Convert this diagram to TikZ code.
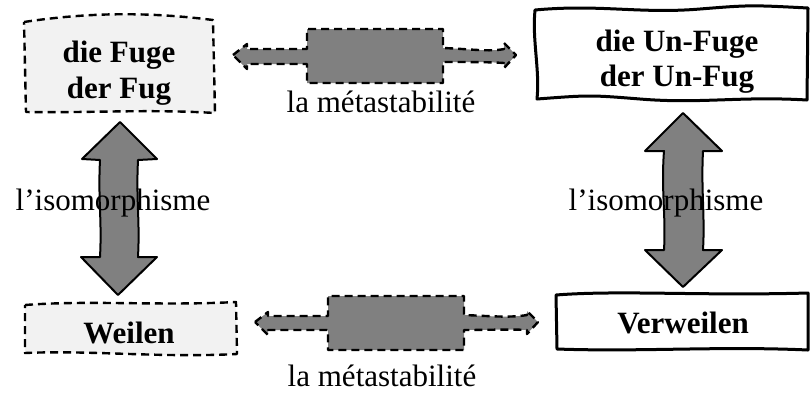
\documentclass[tikz,border=0pt]{standalone}
\usepackage{fontspec}
\setmainfont{Liberation Serif}
\definecolor{arrowgray}{HTML}{808080}
\definecolor{boxgray}{HTML}{F2F2F2}
\tikzset{
  dashbox/.style={draw=black, fill=boxgray, line width=2.4pt, dash pattern=on 8pt off 5pt, line join=round},
  solidbox/.style={draw=black, fill=white, line width=3pt, line join=round},
  dasharrow/.style={draw=black, fill=arrowgray, line width=2.4pt, dash pattern=on 8pt off 5pt, line join=round},
  solidarrow/.style={draw=black, fill=arrowgray, line width=2pt, line join=round},
  boxtext/.style={font=\fontsize{31}{35.5}\selectfont\bfseries, align=center, inner sep=0pt},
  labeltext/.style={font=\fontsize{31}{35.5}\selectfont, inner sep=0pt}
}
\begin{document}
\begin{tikzpicture}[x=1pt,y=-1pt]
\useasboundingbox (0,0) rectangle (810,392);
% vertical arrows
\draw[solidarrow] (120,122) -- (157,159) -- (138,160) .. controls (136,200) and (140,220) .. (138,257) -- (157,257) -- (118,295) -- (81,257) -- (100,257) .. controls (102,220) and (98,200) .. (100,160) -- (82,159) -- cycle;
\draw[solidarrow] (683,113) -- (722,151) -- (703,151) .. controls (701,190) and (705,215) .. (703,250) -- (722,250) -- (683,287) -- (645,250) -- (664,250) .. controls (666,215) and (661,190) .. (664,151) -- (645,151) -- cycle;
% boxes
\draw[dashbox] (24,22) .. controls (90,12) and (150,12) .. (213,20) -- (215,113) .. controls (150,109) and (90,113) .. (26,112) -- cycle;
\draw[solidbox] (535,10) .. controls (600,4) and (640,14) .. (700,9) .. controls (750,5) .. (808,8) -- (807,100) .. controls (740,96) and (700,104) .. (640,99) .. controls (590,95) .. (537,99) .. controls (540,70) and (532,40) .. cycle;
\draw[dashbox] (25,305) .. controls (90,300) and (160,306) .. (236,302) -- (237,354) .. controls (160,358) and (90,350) .. (25,353) -- cycle;
\draw[solidbox] (556,295) .. controls (620,290) and (700,296) .. (808,293) -- (808,350) .. controls (720,346) and (640,352) .. (557,349) -- cycle;
% horizontal arrows
\draw[dasharrow] (233,55) -- (247,44) -- (247,49) -- (307,49) -- (307,29) -- (443,29) -- (443,48) .. controls (470,49) and (490,52) .. (504,49) -- (504,43) -- (516,55) -- (504,68) -- (504,63) .. controls (490,62) and (470,62) .. (443,62) -- (443,83) -- (307,83) -- (307,64) -- (247,64) -- (247,69) -- cycle;
\draw[dasharrow] (255,322) -- (268,312) -- (268,316) -- (328,316) -- (328,296) -- (464,296) -- (464,315) .. controls (490,316) and (510,318) .. (527,315) -- (527,311) -- (538,322) -- (527,334) -- (527,330) .. controls (510,329) and (490,330) .. (464,330) -- (464,350) -- (328,350) -- (328,330) -- (268,330) -- (268,335) -- cycle;
% texts
\node[boxtext] (fuge) at (119,73) {die Fuge\\der Fug};
\node[boxtext] (unfuge) at (677,61.5) {die Un-Fuge\\der Un-Fug};
\node[boxtext] (weilen) at (129,333) {Weilen};
\node[boxtext] (verweilen) at (683,323) {Verweilen};
\node[labeltext] (meta1) at (381,102) {la métastabilité};
\node[labeltext] (meta2) at (382,376) {la métastabilité};
\node[labeltext] (iso1) at (113,203) {l’isomorphisme};
\node[labeltext] (iso2) at (666,203) {l’isomorphisme};
\end{tikzpicture}
\end{document}
